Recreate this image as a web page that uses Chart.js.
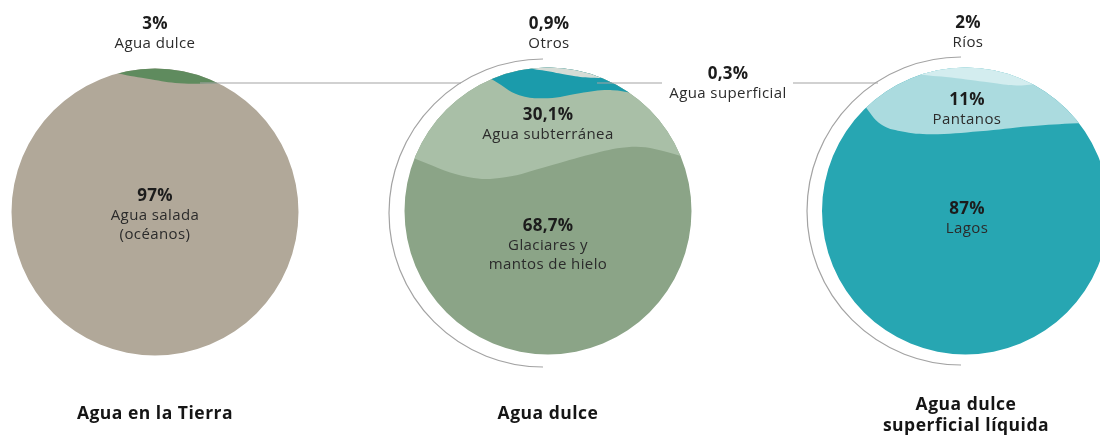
<!DOCTYPE html>
<html lang="es">
<head>
<meta charset="utf-8">
<title>Distribución del agua en la Tierra</title>
<script src="https://cdn.jsdelivr.net/npm/chart.js@4.4.1/dist/chart.umd.min.js"></script>
<style>
  html, body { margin: 0; padding: 0; background: #fff; }
  #wrap { width: 1100px; height: 435px; }
</style>
</head>
<body>
<div id="wrap"><canvas id="water" width="1100" height="435"></canvas></div>
<script>
// shares are listed bottom to top, the way they sit inside each circle
const earthShares = [97, 3];
const earthNames = [['Agua salada', '(océanos)'], ['Agua dulce']];

const freshShares = [68.7, 30.1, 0.3, 0.9];
const freshNames = [['Glaciares y', 'mantos de hielo'], ['Agua subterránea'], ['Agua superficial'], ['Otros']];

const surfaceShares = [87, 11, 2];
const surfaceNames = [['Lagos'], ['Pantanos'], ['Ríos']];

const titles = [['Agua en la Tierra'], ['Agua dulce'], ['Agua dulce', 'superficial líquida']];

const FONT = '"Open Sans", "DejaVu Sans", sans-serif';

// layout in axis units (one unit is one pixel); waves are [x/r, dy] offsets
const circles = [
  {
    shares: earthShares, names: earthNames, title: titles[0],
    cx: 155, cy: 212, r: 143.5,
    colors: ['#b1a899', '#5f8b5e'],
    waves: [
      [[-1.1, -45], [-0.52, -25], [-0.26, -15], [-0.03, -9], [0.17, -5], [0.45, -5], [0.73, -7], [1.1, -12]]
    ],
    labelAt: [[155, 196], [155, 24]],
    titleAt: [155, 414]
  },
  {
    shares: freshShares, names: freshNames, title: titles[1],
    cx: 548, cy: 211, r: 143.5,
    colors: ['#8ba487', '#a9bfa7', '#1b9bab', '#d5dcd6'],
    waves: [
      [[-1.15, -25], [-0.9, -8], [-0.55, 9], [-0.3, 9], [0, -2], [0.3, -14], [0.55, -21], [0.75, -19], [1.1, -4]],
      [[-1.1, -40], [-0.8, -25], [-0.5, -7], [-0.38, 2], [-0.2, 17], [0, 20], [0.22, 15], [0.45, 12], [0.7, 18], [1.1, 24]],
      [[-1.1, -40], [-0.7, -30], [-0.33, -20], [-0.15, -9], [0, -5], [0.15, -1], [0.3, 1.5], [0.6, 1], [1.1, -2]]
    ],
    labelAt: [[548, 226], [548, 115], [728, 74], [549, 24]],
    titleAt: [548, 414]
  },
  {
    shares: surfaceShares, names: surfaceNames, title: titles[2],
    cx: 965.5, cy: 211, r: 143.5,
    colors: ['#27a6b2', '#abdbdf', '#d3edef'],
    waves: [
      [[-1.1, -80], [-0.84, -42], [-0.7, -15], [-0.59, 3], [-0.45, 10], [-0.24, 13], [0.1, 10], [0.45, 5], [0.78, 2], [1.1, 1]],
      [[-1.1, -40], [-0.9, -30], [-0.59, -19], [-0.35, -9], [-0.1, -5], [0.17, 0], [0.36, 3], [0.52, 1], [0.8, -3], [1.1, -8]]
    ],
    labelAt: [[967, 209], [967, 100], [968, 23]],
    titleAt: [966, 405]
  }
];

// open arcs on the left of the two zoomed circles, and the leader lines
const brackets = [
  { cx: 543, cy: 213, r: 154 },
  { cx: 961, cy: 211, r: 154 }
];
const leaders = [[200, 461, 83], [597, 662, 83], [793, 878, 83]];

const pct = v => String(v).replace('.', ',') + '%';
const sum = a => a.reduce((s, v) => s + v, 0);

// area share of a circular cap whose depth is t radii
function capShare(t) {
  return (Math.acos(1 - t) - (1 - t) * Math.sqrt(2 * t - t * t)) / Math.PI;
}
function capDepth(share) {
  let lo = 0, hi = 2;
  for (let i = 0; i < 60; i++) {
    const mid = (lo + hi) / 2;
    if (capShare(mid) < share) lo = mid; else hi = mid;
  }
  return (lo + hi) / 2;
}

function band(c, wave, level, color) {
  return {
    data: wave.map(([u, dy]) => ({ x: c.cx + u * c.r, y: level + dy })),
    backgroundColor: color,
    borderColor: 'rgba(0,0,0,0)',
    borderWidth: 0,
    pointRadius: 0,
    tension: 0.4,
    fill: { value: 0 }
  };
}

const datasets = [];
circles.forEach(c => {
  const total = sum(c.shares);
  // bottom share covers the whole disc, each upper share is painted over it
  datasets.push(band(c, [[-1.1, 0], [1.1, 0]], c.cy + c.r + 4, c.colors[0]));
  for (let k = 1; k < c.shares.length; k++) {
    const above = sum(c.shares.slice(k)) / total;
    const level = c.cy - c.r + capDepth(above) * c.r;
    datasets.push(band(c, c.waves[k - 1], level, c.colors[k]));
  }
});
datasets.forEach((d, i) => { d.order = datasets.length - i; });

const discClip = {
  id: 'discClip',
  beforeDatasetsDraw(chart) {
    const { ctx, scales: { x, y } } = chart;
    ctx.save();
    ctx.beginPath();
    circles.forEach(c => {
      const px = x.getPixelForValue(c.cx);
      const py = y.getPixelForValue(c.cy);
      const pr = x.getPixelForValue(c.cx + c.r) - px;
      ctx.moveTo(px + pr, py);
      ctx.arc(px, py, pr, 0, Math.PI * 2);
    });
    ctx.clip();
  },
  afterDatasetsDraw(chart) {
    chart.ctx.restore();
  }
};

function text(ctx, str, x, y, font, color, spacing) {
  ctx.font = font;
  ctx.fillStyle = color;
  ctx.letterSpacing = spacing + 'px';
  ctx.fillText(str, x, y);
}

const decor = {
  id: 'decor',
  afterDraw(chart) {
    const { ctx, scales: { x, y } } = chart;
    ctx.save();
    ctx.strokeStyle = '#a3a3a3';
    ctx.lineWidth = 1.2;
    brackets.forEach(b => {
      const px = x.getPixelForValue(b.cx), py = y.getPixelForValue(b.cy);
      const pr = x.getPixelForValue(b.cx + b.r) - px;
      ctx.beginPath();
      ctx.arc(px, py, pr, -Math.PI / 2, Math.PI / 2, true);
      ctx.stroke();
    });
    leaders.forEach(([x0, x1, yy]) => {
      ctx.beginPath();
      ctx.moveTo(x.getPixelForValue(x0), y.getPixelForValue(yy));
      ctx.lineTo(x.getPixelForValue(x1), y.getPixelForValue(yy));
      ctx.stroke();
    });

    ctx.textAlign = 'center';
    ctx.textBaseline = 'middle';
    circles.forEach(c => {
      c.shares.forEach((v, i) => {
        const lx = x.getPixelForValue(c.labelAt[i][0]);
        const ly = y.getPixelForValue(c.labelAt[i][1]);
        text(ctx, pct(v), lx, ly, `bold 17px ${FONT}`, '#1c1c1c', 0.2);
        c.names[i].forEach((line, j) => {
          text(ctx, line, lx, ly + 20 + j * 19, `15px ${FONT}`, '#2b2b2b', 0.4);
        });
      });
      c.title.forEach((line, j) => {
        text(ctx, line, x.getPixelForValue(c.titleAt[0]), y.getPixelForValue(c.titleAt[1]) + j * 21,
          `bold 17.5px ${FONT}`, '#151515', 0.5);
      });
    });
    ctx.restore();
  }
};

new Chart(document.getElementById('water'), {
  type: 'line',
  data: { datasets },
  options: {
    responsive: false,
    animation: false,
    events: [],
    layout: { padding: 0, autoPadding: false },
    scales: {
      x: { type: 'linear', min: 0, max: 1100, display: false },
      y: { type: 'linear', min: 0, max: 435, reverse: true, display: false }
    },
    plugins: {
      legend: { display: false },
      tooltip: { enabled: false }
    }
  },
  plugins: [discClip, decor]
});
</script>
</body>
</html>
